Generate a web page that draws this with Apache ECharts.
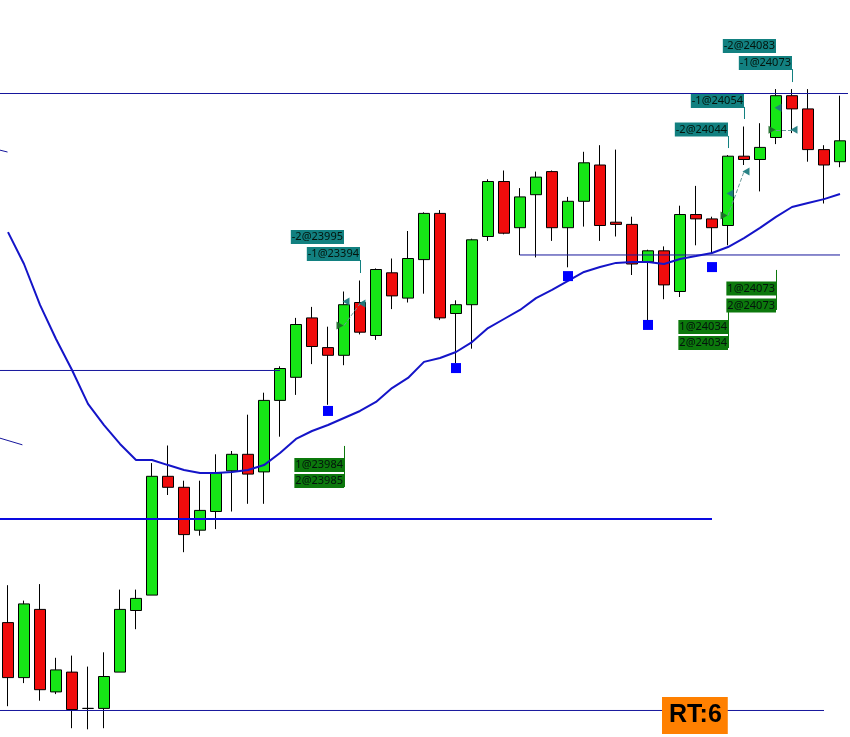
<!DOCTYPE html>
<html><head><meta charset="utf-8">
<script src="https://cdn.jsdelivr.net/npm/echarts@6/dist/echarts.min.js"></script>
<style>html,body{margin:0;padding:0;background:#fff}#c{width:850px;height:737px}</style>
</head><body><div id="c"></div>
<script>
// ---- data ----
const categories = ['1','2','3','4','5','6','7','8','9','10','11','12','13','14','15','16','17','18','19','20','21','22','23','24','25','26','27','28','29','30','31','32','33','34','35','36','37','38','39','40','41','42','43','44','45','46','47','48','49','50','51','52','53'];
const opens  = [23849,23824,23855,23817.5,23826.5,23810,23810,23826.5,23854.5,23861.5,23915.5,23910.5,23891,23899.5,23918,23925.5,23917.5,23950,23960.5,23987.5,23974,23970.5,23994.5,23979.5,24008,23996.5,24014,24035,23989.5,23993.5,24024.5,24049.5,24028.5,24043.5,24054,24028.5,24040.5,24057,24031,24030,24013,24018,23999.5,24034.5,24032.5,24029.5,24061,24059.5,24069.5,24088.5,24082.5,24064,24058.5];
const closes = [23824,23857.5,23818.5,23827.5,23809.5,23810,23824.5,23855,23860,23915.5,23910.5,23889,23900,23917,23925.5,23916.5,23950,23964.5,23984.5,23974.5,23970.5,23993.5,23981,24009.5,23997.5,24014.5,24035,23987.5,23993.5,24023,24049.5,24026,24042.5,24051.5,24028.5,24040.5,24058,24029.5,24030,24012,24018,24002.5,24034.5,24032.5,24028.5,24061,24059.5,24065,24088.5,24082.5,24064,24057,24068];
const lows   = [23811,23821.5,23813.5,23816.5,23801,23800.5,23801,23826.5,23846,23861.5,23907,23881,23888.5,23891.5,23899.5,23903,23903,23933.5,23952.5,23966.5,23948,23966,23980,23977.5,23991.5,23994.5,23998.5,23986.5,23967,23973.5,24022.5,24025.5,24016,24015,24022.5,24010.5,24029,24022.5,24024.5,24007,23986.5,23996,23997,24020.5,24017,24020.5,24057,24045,24066.5,24071.5,24058.5,24039.5,24056];
const highs  = [23866,23859,23866.5,23833,23834,23829,23835.5,23864,23864,23921.5,23929.5,23913.5,23913.5,23925.5,23927,23943.5,23953.5,23965.5,23987.5,23992.5,23983.5,23999.5,24004.5,24010,24014.5,24027,24035.5,24036.5,23995.5,24023.5,24050.5,24054.5,24046.5,24054,24054.5,24042.5,24063,24066,24064,24033.5,24018.5,24020,24038.5,24047.5,24033.5,24061.5,24074.5,24076,24091.5,24091.5,24091.5,24066,24088.5];
const maValues = [24026.5,24012,23993.4,23977.9,23963.8,23948.4,23938.8,23930.2,23922.9,23922.9,23920.6,23918.4,23917,23917,23917.5,23918.4,23920.6,23926.1,23932.5,23936.1,23938.8,23942,23945.2,23949.3,23955.6,23960.2,23967.5,23969.3,23972,23976.5,23982.9,23987,23991.1,23996.5,24000.2,24004.3,24008.4,24010.6,24012.5,24012.9,24012.9,24012,24014.3,24015.6,24017,24019.7,24023.8,24028.4,24033.4,24037.9,24039.7,24041.5,24043.8];

const levelPrices = [24089.5, 23963.6, 23896.1, 24016.1, 23809.05];
const levelFrom   = [-0.5, -0.5, -0.5, 32, -0.5];
const levelTo     = [52.5, 17, 44, 52, 51];
const levelWidths = [1, 1, 2, 1, 1];

const stopBars   = [20, 28, 35, 40, 44];
const stopPrices = [23945.2, 23964.7, 24006.5, 23984.3, 24010.6];

const sellLabels      = ['-2@23995','-1@23394','-2@24044','-1@24054','-2@24083','-1@24073'];
const sellLabelBars   = [21, 22, 45, 46, 48, 49];
const sellLabelPrices = [24024.3, 24016.5, 24073.1, 24086.1, 24111.1, 24103.4];
const buyLabels       = ['1@23984','2@23985','1@24073','2@24073','1@24034','2@24034'];
const buyLabelBars    = [21, 21, 48, 48, 45, 45];
const buyLabelPrices  = [23920.6, 23913.4, 24000.9, 23993.1, 23983.4, 23976.1];

const sellConnBars = [22, 45, 46, 49];
const sellConnFrom = [24013.8, 24070.2, 24083.4, 24100.6];
const sellConnTo   = [24007.9, 24064.7, 24077.9, 24094.7];
const buyConnBars  = [21, 48, 45];
const buyConnFrom  = [23929.3, 24009.3, 23992];
const buyConnTo    = [23910.6, 23991.1, 23973.8];

const entryBars   = [21, 45, 48];
const entryPrices = [23984, 24034, 24073];
const exitBars    = [21, 22, 45, 46, 48, 49];
const exitPrices  = [23995, 23994, 24044, 24054, 24083, 24073];
const linkFromBars = [21, 45, 48];
const linkFromPrices = [23984, 24034, 24073];
const linkToBars = [22, 46, 49];
const linkToPrices = [23994, 24054, 24073];

const stubAx = [-0.53, -0.03], stubAy = [24063.8, 24062.9];
const stubBx = [-0.53, 0.9],   stubBy = [23932.9, 23929.8];

// ---- chart ----
const chart = echarts.init(document.getElementById('c'), null, {renderer: 'canvas'});
const candleData = categories.map((c, i) => [opens[i], closes[i], lows[i], highs[i]]);
const hidden = {show: false};
const TEAL = '#128080', GREEN = '#0c780c';
const labelFont = {fontFamily: 'Noto Sans', fontSize: 11, color: '#03140c', lineHeight: 12, padding: [1, 1, 1, 1]};

const levelSeries = levelPrices.map((p, k) => ({
  type: 'line', xAxisIndex: 1, symbol: 'none', silent: true, z: 4,
  data: [[levelFrom[k], p], [levelTo[k], p]],
  lineStyle: {color: levelWidths[k] > 1 ? '#0a0ae0' : '#16169c', width: levelWidths[k]}
}));

function labelSeries(texts, bars, prices, bg) {
  return {
    type: 'scatter', symbolSize: 0, z: 10, silent: true,
    itemStyle: {opacity: 1},
    data: texts.map((t, k) => ({name: t, value: [bars[k], prices[k]]})),
    label: Object.assign({show: true, position: 'left', distance: 0, formatter: '{b}', backgroundColor: bg, opacity: 1}, labelFont)
  };
}
function connLines(bars, from, to) {
  return bars.map((b, k) => [{coord: [b, from[k]]}, {coord: [b, to[k]]}]);
}

const option = {
  animation: false,
  backgroundColor: '#ffffff',
  title: {
    text: 'RT:6', left: 662, top: 697, backgroundColor: '#ff8000', padding: [5, 6, 5, 7],
    textStyle: {fontFamily: 'Liberation Sans', fontSize: 25, fontWeight: 'bold', color: '#000', lineHeight: 27}
  },
  grid: {left: 0, right: 2, top: 0, bottom: 0, containLabel: false},
  xAxis: [
    {type: 'category', data: categories, boundaryGap: true, axisLine: hidden, axisTick: hidden, axisLabel: hidden, splitLine: hidden},
    {type: 'value', min: -0.5, max: 52.5, axisLine: hidden, axisTick: hidden, axisLabel: hidden, splitLine: hidden}
  ],
  yAxis: {type: 'value', min: 23797, max: 24132, scale: true, axisLine: hidden, axisTick: hidden, axisLabel: hidden, splitLine: hidden},
  series: [
    {
      type: 'candlestick', data: candleData, barWidth: 11, z: 2,
      itemStyle: {color: '#16e616', color0: '#f00c0c', borderColor: '#000', borderColor0: '#000', borderWidth: 1}
    },
    {
      type: 'line', data: maValues, symbol: 'none', z: 5, silent: true,
      lineStyle: {color: '#1414c8', width: 2}
    },
    ...levelSeries,
    {type: 'line', xAxisIndex: 1, symbol: 'none', z: 4, data: stubAx.map((x, k) => [x, stubAy[k]]), lineStyle: {color: '#16169c', width: 1}},
    {type: 'line', xAxisIndex: 1, symbol: 'none', z: 4, data: stubBx.map((x, k) => [x, stubBy[k]]), lineStyle: {color: '#16169c', width: 1}},
    {
      type: 'scatter', symbol: 'rect', symbolSize: 10, z: 6, silent: true,
      data: stopBars.map((b, k) => [b, stopPrices[k]]), itemStyle: {color: '#0000ff', opacity: 1}
    },
    {
      type: 'scatter', symbol: 'triangle', symbolSize: [8, 7], symbolRotate: -90, symbolOffset: [-4, 0], z: 7, silent: true,
      data: entryBars.map((b, k) => [b, entryPrices[k]]), itemStyle: {color: '#1d6e2a', opacity: 0.95},
      markLine: {
        silent: true, symbol: ['none', 'none'], label: {show: false},
        lineStyle: {color: '#6a9a9a', type: 'dashed', width: 1},
        data: linkFromBars.map((b, k) => [{coord: [b, linkFromPrices[k]]}, {coord: [linkToBars[k], linkToPrices[k]]}])
      }
    },
    {
      type: 'scatter', symbol: 'triangle', symbolSize: [8, 7], symbolRotate: 90, symbolOffset: [2, 0], z: 7, silent: true,
      data: exitBars.map((b, k) => [b, exitPrices[k]]), itemStyle: {color: '#1f7c80', opacity: 0.95}
    },
    Object.assign(labelSeries(sellLabels, sellLabelBars, sellLabelPrices, TEAL), {
      markLine: {silent: true, symbol: ['none', 'none'], label: {show: false}, lineStyle: {color: TEAL, type: 'solid', width: 1},
        data: connLines(sellConnBars, sellConnFrom, sellConnTo)}
    }),
    Object.assign(labelSeries(buyLabels, buyLabelBars, buyLabelPrices, GREEN), {
      markLine: {silent: true, symbol: ['none', 'none'], label: {show: false}, lineStyle: {color: GREEN, type: 'solid', width: 1},
        data: connLines(buyConnBars, buyConnFrom, buyConnTo)}
    })
  ]
};
chart.setOption(option);
</script>
</body></html>
